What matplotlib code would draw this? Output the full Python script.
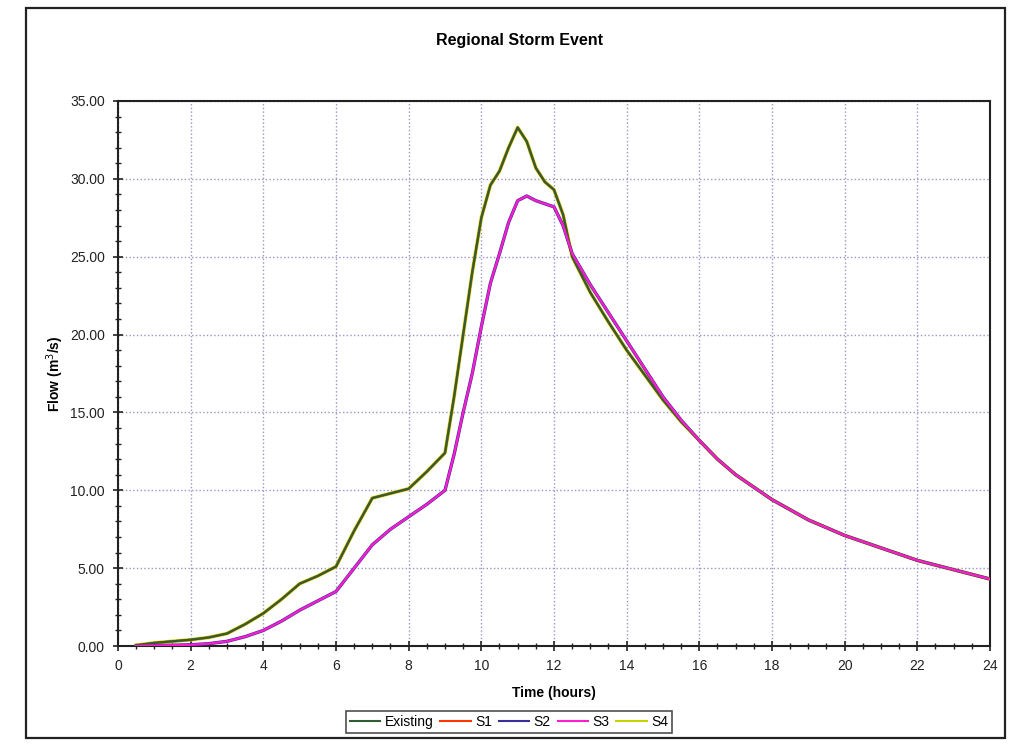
import matplotlib
matplotlib.use("Agg")
import matplotlib.pyplot as plt
from matplotlib.patches import Rectangle
from matplotlib.ticker import MultipleLocator, FormatStrFormatter

# time steps (hours)
time = [0.5, 1, 1.5, 2, 2.5, 3, 3.5, 4, 4.5, 5, 5.5, 6, 6.5, 7, 7.5, 8, 8.5, 9,
        9.25, 9.5, 9.75, 10, 10.25, 10.5, 10.75, 11, 11.25, 11.5, 11.75, 12,
        12.25, 12.5, 13, 13.5, 14, 14.5, 15, 15.5, 16, 16.5, 17, 17.5, 18,
        19, 20, 21, 22, 23, 24]

# flows (m3/s)
existing = [0.05, 0.2, 0.3, 0.4, 0.55, 0.8, 1.4, 2.1, 3.0, 4.0, 4.5, 5.1, 7.4,
            9.5, 9.8, 10.1, 11.2, 12.4, 16.0, 20.0, 24.0, 27.5, 29.6, 30.5,
            32.0, 33.3, 32.4, 30.7, 29.8, 29.3, 27.7, 25.0, 22.7, 20.8, 19.0,
            17.4, 15.8, 14.4, 13.2, 12.0, 11.0, 10.2, 9.4, 8.1, 7.1, 6.3, 5.5,
            4.9, 4.3]
s1 = existing
s4 = existing
s3 = [0.0, 0.03, 0.05, 0.08, 0.15, 0.3, 0.6, 1.0, 1.6, 2.3, 2.9, 3.5, 5.0,
      6.5, 7.5, 8.3, 9.1, 10.0, 12.3, 15.0, 17.5, 20.5, 23.3, 25.2, 27.2, 28.6,
      28.9, 28.6, 28.4, 28.2, 27.0, 25.2, 23.2, 21.4, 19.6, 17.8, 16.0, 14.5,
      13.2, 12.0, 11.0, 10.2, 9.4, 8.1, 7.1, 6.3, 5.5, 4.9, 4.3]
s2 = s3

plt.rcParams['font.family'] = ['Liberation Sans', 'DejaVu Sans']

fig = plt.figure(figsize=(10.2, 7.44), dpi=100)
fig.patches.append(Rectangle((26 / 1020, 1 - 738 / 744), 979 / 1020, 730 / 744,
                             transform=fig.transFigure, fill=False,
                             edgecolor='#222222', linewidth=1.6))

ax = fig.add_axes([118 / 1020, 1 - 646 / 744, 872 / 1020, 545 / 744])

ax.plot(time, s4, color='#c8d400', lw=2.6, zorder=3)
ax.plot(time, s1, color='#ff3300', lw=1.6, zorder=3.5)
ax.plot(time, existing, color='#2e5e32', lw=1.6, zorder=4)
ax.plot(time, s2, color='#3a2f9a', lw=2.4, zorder=3)
ax.plot(time, s3, color='#ff1ccf', lw=1.6, zorder=4)

ax.set_xlim(0, 24)
ax.set_ylim(0, 35)
ax.xaxis.set_major_locator(MultipleLocator(2))
ax.xaxis.set_minor_locator(MultipleLocator(0.5))
ax.yaxis.set_major_locator(MultipleLocator(5))
ax.yaxis.set_minor_locator(MultipleLocator(1))
ax.yaxis.set_major_formatter(FormatStrFormatter('%.2f'))
ax.tick_params(which='both', direction='inout', colors='#222222', labelsize=10)
ax.tick_params(which='major', length=7, width=1.2, pad=6)
ax.tick_params(which='minor', length=5, width=1.0)
ax.grid(True, which='major', linestyle=':', color='#9a94c8', linewidth=1.0)

for side in ['left', 'bottom', 'top', 'right']:
    ax.spines[side].set_color('#222222')
    ax.spines[side].set_linewidth(1.5)

ax.set_xlabel('Time (hours)', fontsize=10, fontweight='bold', labelpad=9)
ax.set_ylabel('Flow (m$^3$/s)', fontsize=10, fontweight='bold', labelpad=3)
fig.text(520 / 1020, 1 - 41 / 744, 'Regional Storm Event', ha='center',
         va='center', fontsize=11.5, fontweight='bold')

handles = [plt.Line2D([], [], color=c, lw=1.5)
           for c in ['#2e5e32', '#ff3300', '#3a2f9a', '#ff1ccf', '#c8d400']]
leg = fig.legend(handles, ['Existing', 'S1', 'S2', 'S3', 'S4'], ncol=5,
                 loc='center', bbox_to_anchor=(509 / 1020, 1 - 722 / 744),
                 fontsize=10, frameon=True, fancybox=False, handlelength=2.2,
                 handletextpad=0.3, columnspacing=0.5, borderpad=0.3)
leg.get_frame().set_edgecolor('#222222')
leg.get_frame().set_linewidth(1.2)

fig.savefig('out.png', dpi=100)
